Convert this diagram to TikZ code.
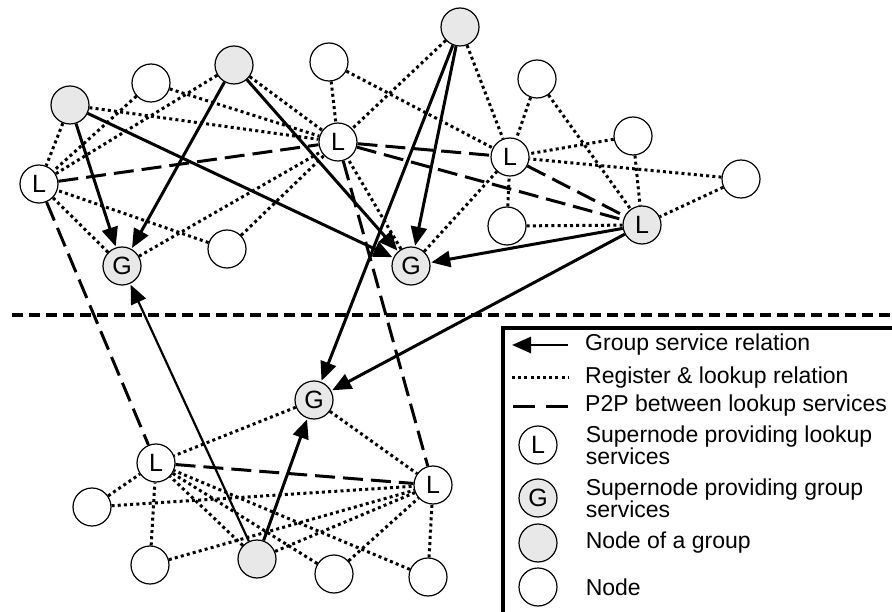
\documentclass[tikz,border=0pt]{standalone}
\usepackage{fontspec}
\setmainfont{Liberation Sans}
\usetikzlibrary{arrows.meta, positioning}
\definecolor{nodegray}{HTML}{E8E8E8}

\begin{document}
\begin{tikzpicture}[
  x=1pt, y=-1pt,
  peer/.style={draw, circle, minimum size=38pt, inner sep=0pt, line width=1.2pt, fill=white, font=\fontsize{25}{25}\selectfont},
  member/.style={peer, fill=nodegray},
  arrow/.style={-{Triangle[length=19pt,width=16pt]}, line width=3pt, shorten >=1pt},
  reg/.style={line width=3pt, dash pattern=on 3pt off 3.2pt},
  ptp/.style={line width=3pt, dash pattern=on 20pt off 8pt},
  legtext/.style={font=\fontsize{23}{22}\selectfont, inner sep=0pt, align=left, anchor=west}
]
\useasboundingbox (0,0) rectangle (892,612);

% Upper group
\node[member] (gm1) at (70,105) {};
\node[peer] (pn1) at (151,83) {};
\node[member] (gm2) at (234,65) {};
\node[peer] (pn2) at (329,62) {};
\node[member] (gm3) at (460,27) {};
\node[peer] (lk1) at (39,184) {L};
\node[peer] (lk2) at (338,142) {L};
\node[member] (gs1) at (122,266) {G};
\node[peer] (pn3) at (227,249) {};
\node[member] (gs2) at (411,266) {G};
\node[peer] (pn4) at (537,79) {};
\node[peer] (lk3) at (510,157) {L};
\node[peer] (pn5) at (633,136) {};
\node[peer] (pn6) at (741,179) {};
\node[peer] (pn7) at (507,226) {};
\node[member] (lk4) at (642,225) {L};

% Lower group
\node[member] (gs3) at (314,400) {G};
\node[peer] (lk5) at (156,463) {L};
\node[peer] (lk6) at (433,485) {L};
\node[peer] (pn8) at (92,507) {};
\node[peer] (pn9) at (150,565) {};
\node[member] (gm4) at (257,559) {};
\node[peer] (pn10) at (334,574) {};
\node[peer] (pn11) at (428,577) {};

% Register & lookup
\draw[reg] (gm1) -- (lk1);
\draw[reg] (gm1) -- (lk2);
\draw[reg] (pn1) -- (lk1);
\draw[reg] (pn1) -- (lk2);
\draw[reg] (gm2) -- (lk1);
\draw[reg] (gm2) -- (lk2);
\draw[reg] (pn2) -- (lk2);
\draw[reg] (pn2) -- (lk3);
\draw[reg] (gm3) -- (lk2);
\draw[reg] (gm3) -- (lk3);
\draw[reg] (pn3) -- (lk1);
\draw[reg] (pn3) -- (lk2);
\draw[reg] (gs1) -- (lk1);
\draw[reg] (gs1) -- (lk2);
\draw[reg] (gs2) -- (lk2);
\draw[reg] (gs2) -- (lk3);
\draw[reg] (pn4) -- (lk3);
\draw[reg] (pn4) -- (lk4);
\draw[reg] (pn5) -- (lk3);
\draw[reg] (pn5) -- (lk4);
\draw[reg] (pn6) -- (lk3);
\draw[reg] (pn6) -- (lk4);
\draw[reg] (pn7) -- (lk3);
\draw[reg] (pn7) -- (lk4);
\draw[reg] (gs3) -- (lk5);
\draw[reg] (gs3) -- (lk6);
\draw[reg] (pn8) -- (lk5);
\draw[reg] (pn8) -- (lk6);
\draw[reg] (pn9) -- (lk5);
\draw[reg] (pn9) -- (lk6);
\draw[reg] (gm4) -- (lk5);
\draw[reg] (gm4) -- (lk6);
\draw[reg] (pn10) -- (lk5);
\draw[reg] (pn10) -- (lk6);
\draw[reg] (pn11) -- (lk5);
\draw[reg] (pn11) -- (lk6);

% P2P between lookup services
\draw[ptp] (lk1) -- (lk2);
\draw[ptp] (lk2) -- (lk3);
\draw[ptp] (lk2) -- (lk4);
\draw[ptp] (lk3) -- (lk4);
\draw[ptp] (lk1) -- (lk5);
\draw[ptp] (lk2) -- (lk6);
\draw[ptp] (lk5) -- (lk6);

% Group service
\draw[arrow] (gm1) -- (gs1);
\draw[arrow] (gm1) -- (gs2);
\draw[arrow] (gm2) -- (gs1);
\draw[arrow] (gm2) -- (gs2);
\draw[arrow] (gm3) -- (gs2);
\draw[arrow] (gm3) -- (gs3);
\draw[arrow] (lk4) -- (gs2);
\draw[arrow] (lk4) -- (gs3);
\draw[arrow, line width=2.2pt] (gm4) -- (gs1);
\draw[arrow] (gm4) -- (gs3);

% Separator
\coordinate (sepL) at (12,315);
\coordinate (sepR) at (895,315);
\draw[line width=3.5pt, dash pattern=on 11pt off 6pt] (sepL) -- (sepR);

% Legend
\coordinate (boxA) at (503,615);
\coordinate (boxB) at (503,328);
\coordinate (boxC) at (895,328);
\draw[line width=3.5pt] (boxA) -- (boxB) -- (boxC);

\node[legtext] (t1) at (585,345) {Group service relation};
\coordinate (e1) at (568,345);
\coordinate (s1) at (512,345);
\draw[arrow, shorten >=0pt, line width=2.6pt] (e1) -- (s1);

\node[legtext] (t2) at (585,378) {Register \& lookup relation};
\coordinate (e2) at (568,378);
\coordinate (s2) at (512,378);
\draw[reg] (s2) -- (e2);

\node[legtext] (t3) at (585,406) {P2P between lookup services};
\coordinate (e3) at (568,406);
\coordinate (s3) at (513,406);
\draw[line width=3pt, dash pattern=on 22pt off 11pt] (s3) -- (e3);

\node[peer] (kL) at (538,445) {L};
\node[legtext, right=28pt of kL] (t4) {Supernode providing lookup\\services};
\node[member] (kG) at (538,498) {G};
\node[legtext, right=28pt of kG] (t5) {Supernode providing group\\services};
\node[member] (kM) at (538,543) {};
\node[legtext, right=28pt of kM] (t6) {Node of a group};
\node[peer] (kN) at (538,587) {};
\node[legtext, right=28pt of kN] (t7) {Node};

\end{tikzpicture}
\end{document}
